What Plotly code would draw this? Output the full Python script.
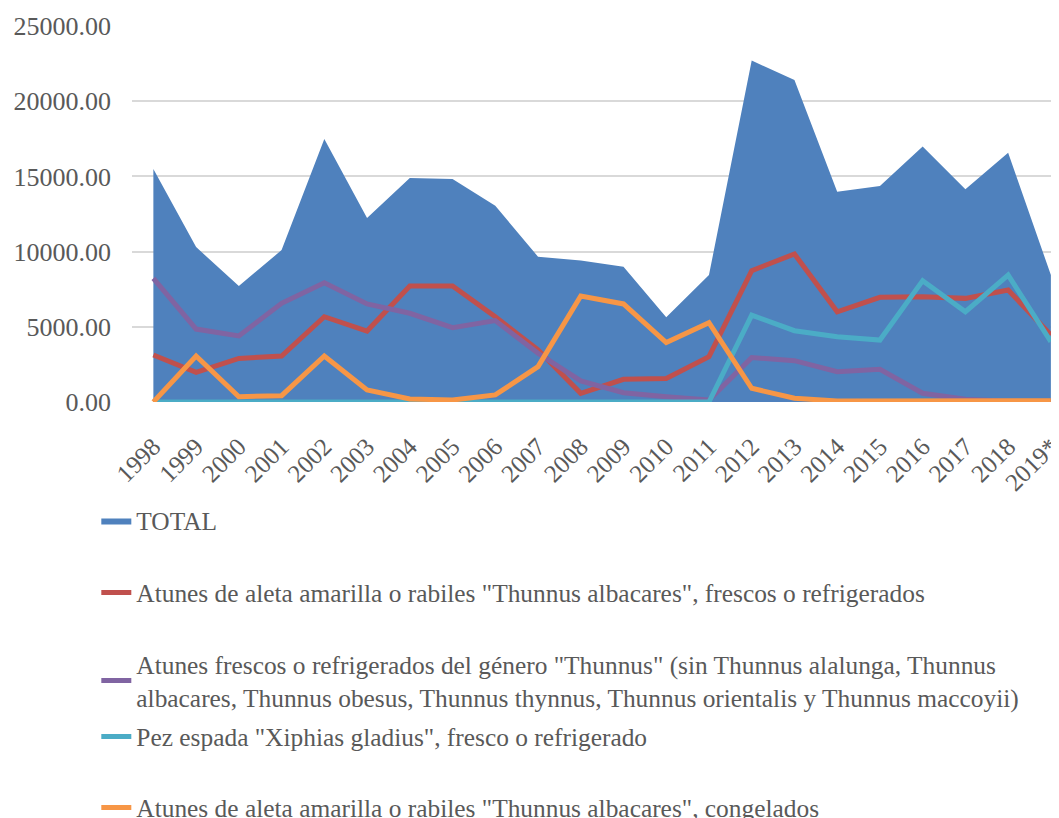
import plotly.graph_objects as go

# years on the category axis
years = ["1998", "1999", "2000", "2001", "2002", "2003", "2004", "2005", "2006", "2007", "2008",
         "2009", "2010", "2011", "2012", "2013", "2014", "2015", "2016", "2017", "2018", "2019*"]

# values
total = [15490, 10300, 7710, 10100, 17490, 12230, 14890, 14830, 13050, 9660, 9400,
         9000, 5630, 8440, 22700, 21410, 13980, 14360, 16980, 14140, 16580, 8440]
albacares_frescos = [3125, 1970, 2900, 3060, 5670, 4720, 7710, 7710, 5670, 3460, 580,
                     1510, 1570, 3010, 8730, 9840, 6000, 6960, 7000, 6890, 7450, 4450]
thunnus_otros = [8220, 4850, 4390, 6560, 7930, 6520, 5900, 4940, 5410, 3240, 1400,
                 620, 350, 130, 2950, 2750, 2010, 2170, 580, 180, 50, 50]
pez_espada = [0, 0, 0, 0, 0, 0, 0, 0, 0, 0, 0,
              0, 0, 0, 5780, 4740, 4340, 4120, 8070, 6000, 8440, 4010]
albacares_congelados = [0, 3060, 350, 420, 3060, 800, 200, 130, 470, 2350, 7050,
                        6520, 3950, 5270, 910, 250, 60, 60, 60, 60, 120, 80]

names = [
    "TOTAL",
    'Atunes de aleta amarilla o rabiles "Thunnus albacares", frescos o refrigerados',
    'Atunes frescos o refrigerados del género "Thunnus" (sin Thunnus alalunga, Thunnus<br>'
    'albacares, Thunnus obesus, Thunnus thynnus, Thunnus orientalis y Thunnus maccoyii)',
    'Pez espada "Xiphias gladius", fresco o refrigerado',
    'Atunes de aleta amarilla o rabiles "Thunnus albacares", congelados',
]
colors = ["#4F81BD", "#C0504D", "#8064A2", "#4BACC6", "#F79646"]
series = [albacares_frescos, thunnus_otros, pez_espada, albacares_congelados]

FONT = "Liberation Serif"
GREY = "#595959"

fig = go.Figure()
fig.add_trace(go.Scatter(x=years, y=total, name=names[0], mode="lines", fill="tozeroy",
                         fillcolor=colors[0], line=dict(width=0, color=colors[0]),
                         legend="legend", showlegend=True))
legend_ids = ["legend2", "legend3", "legend4", "legend5"]
for vals, nm, col, lg in zip(series, names[1:], colors[1:], legend_ids):
    fig.add_trace(go.Scatter(x=years, y=vals, name=nm, mode="lines",
                             line=dict(width=5, color=col), cliponaxis=False,
                             legend=lg, showlegend=True))

# the page body adds an 8px offset, so the figure is 8px smaller than the window
plot_top, plot_h = 26, 376
row_px = [521, 593, 681, 737, 808]   # legend row centres in the window
legend_x = -0.0385


def leg(px):
    return dict(x=legend_x, xanchor="left", y=(plot_top + plot_h - px) / plot_h,
                yanchor="middle", bgcolor="rgba(0,0,0,0)",
                font=dict(family=FONT, size=25.4, color=GREY))


fig.update_layout(
    width=1051, height=810,
    margin=dict(l=124, r=0, t=18, b=416, autoexpand=False),
    plot_bgcolor="white", paper_bgcolor="white",
    font=dict(family=FONT, color=GREY),
    showlegend=True,
    legend=leg(row_px[0]),
    legend2=leg(row_px[1]),
    legend3=leg(row_px[2]),
    legend4=leg(row_px[3]),
    legend5=leg(row_px[4]),
    xaxis=dict(type="category", range=[-0.5, 21.19], showgrid=False, showline=False,
               ticks="", tickangle=-45, ticklabelstandoff=24,
               tickfont=dict(family=FONT, size=25, color=GREY)),
    yaxis=dict(range=[0, 25000], dtick=5000, tickformat=".2f", showline=False,
               zeroline=False, gridcolor="#D9D9D9", gridwidth=1.5,
               ticklabelstandoff=20, tickfont=dict(family=FONT, size=26, color=GREY)),
)

fig.write_html("out.html")
